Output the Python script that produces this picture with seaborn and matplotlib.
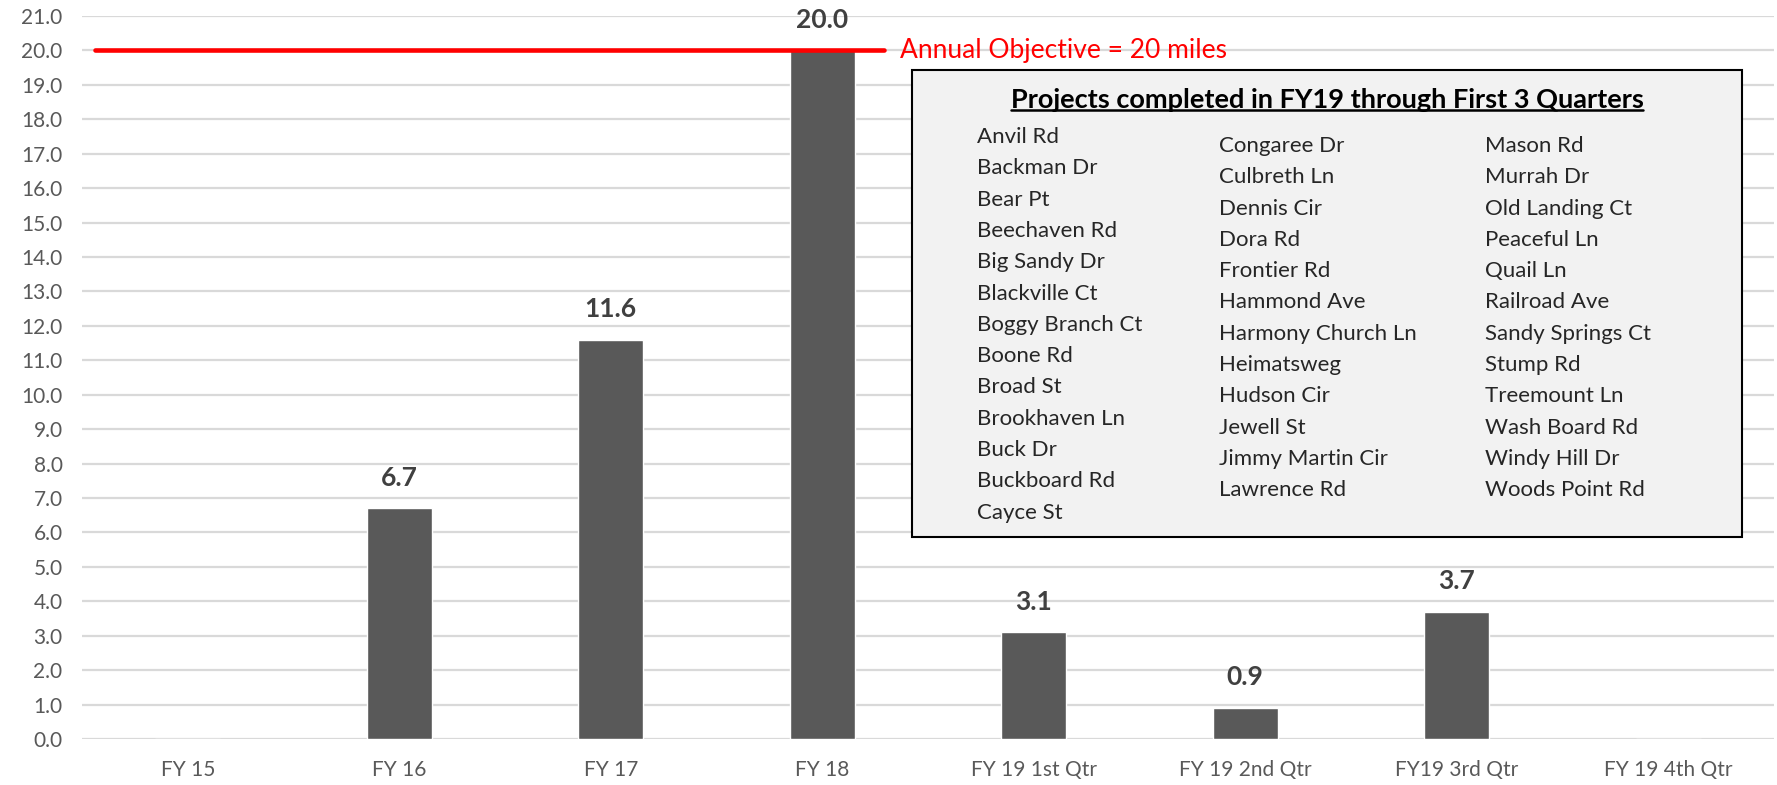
import numpy as np
import pandas as pd
import seaborn as sns
import matplotlib.pyplot as plt

categories = ["FY 15", "FY 16", "FY 17", "FY 18", "FY 19 1st Qtr",
              "FY 19 2nd Qtr", "FY19 3rd Qtr", "FY 19 4th Qtr"]
miles = [0, 6.7, 11.6, 20.0, 3.1, 0.9, 3.7, 0]
objective = 20
objective_label = "Annual Objective = 20 miles"
yticks = np.arange(0, 22, 1)

box_title = "Projects completed in FY19 through First 3 Quarters"
col1 = ["Anvil Rd", "Backman Dr", "Bear Pt", "Beechaven Rd", "Big Sandy Dr",
        "Blackville Ct", "Boggy Branch Ct", "Boone Rd", "Broad St",
        "Brookhaven Ln", "Buck Dr", "Buckboard Rd", "Cayce St"]
col2 = ["Congaree Dr", "Culbreth Ln", "Dennis Cir", "Dora Rd", "Frontier Rd",
        "Hammond Ave", "Harmony Church Ln", "Heimatsweg", "Hudson Cir",
        "Jewell St", "Jimmy Martin Cir", "Lawrence Rd"]
col3 = ["Mason Rd", "Murrah Dr", "Old Landing Ct", "Peaceful Ln", "Quail Ln",
        "Railroad Ave", "Sandy Springs Ct", "Stump Rd", "Treemount Ln",
        "Wash Board Rd", "Windy Hill Dr", "Woods Point Rd"]

df = pd.DataFrame({"period": categories, "miles": miles})

sns.set_theme(style="white")
plt.rcParams['font.family'] = ['Lato', 'DejaVu Sans']

W, H = 1777, 785
fig = plt.figure(figsize=(W / 100, H / 100), dpi=100)
ax = fig.add_axes([82 / W, 46 / H, (1774 - 82) / W, (769 - 46) / H])

for y in yticks:
    ax.axhline(y, color="#d9d9d9", lw=1.6, zorder=0)

sns.barplot(data=df, x="period", y="miles", order=categories, color="#595959",
            width=0.305, saturation=1, ax=ax, zorder=2)

ax.set_xlim(-0.5, len(categories) - 0.5)
ax.set_ylim(0, 21)
ax.set_yticks(yticks)
ax.set_yticklabels([f"{v:.1f}" for v in yticks])
ax.tick_params(axis="both", length=0, labelsize=15, labelcolor="#595959")
ax.tick_params(axis="x", pad=15)
ax.tick_params(axis="y", pad=14)
ax.set_xlabel("")
ax.set_ylabel("")
for s in ax.spines.values():
    s.set_visible(False)

for i, v in enumerate(miles):
    if v > 0:
        ax.annotate(f"{v:.1f}", (i, v), xytext=(0, 22), textcoords="offset points",
                    ha="center", va="center", fontsize=19, fontweight="bold",
                    color="#404040")

# objective line
ax.plot([-0.44, 3.29], [objective, objective], color="red", lw=3.3, zorder=3)
ax.annotate(objective_label, (3.29, objective), xytext=(12, 0),
            textcoords="offset points", ha="left", va="center",
            fontsize=19, color="red")

# project list box
bx0, bx1, by0, by1 = 912 / W, 1742 / W, 1 - 537 / H, 1 - 70 / H
fig.patches.append(plt.Rectangle((bx0, by0), bx1 - bx0, by1 - by0,
                                 transform=fig.transFigure, facecolor="#f2f2f2",
                                 edgecolor="black", lw=1.5, zorder=5))
title = fig.text((bx0 + bx1) / 2, 1 - 100 / H, box_title, ha="center", va="center",
                 fontsize=19.5, fontweight="bold", color="black", zorder=6)

for names, x0, y0 in [(col1, 977, 137), (col2, 1219, 146), (col3, 1485, 146)]:
    for k, name in enumerate(names):
        fig.text(x0 / W, 1 - (y0 + k * 31.3) / H, name, ha="left", va="center",
                 fontsize=16, color="#262626", zorder=6)

# underline the box title
fig.canvas.draw()
bb = title.get_window_extent().transformed(fig.transFigure.inverted())
fig.add_artist(plt.Line2D([bb.x0, bb.x1], [bb.y0 + 0.002, bb.y0 + 0.002],
                          color="black", lw=1.8, zorder=6))

fig.savefig("out.png", dpi=100)
